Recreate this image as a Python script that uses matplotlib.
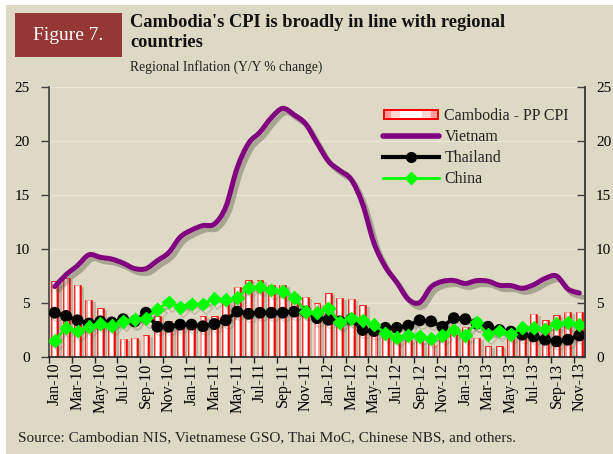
import numpy as np
import matplotlib
matplotlib.use('Agg')
import matplotlib.pyplot as plt
from matplotlib.path import Path
from matplotlib.patches import PathPatch, Rectangle
from matplotlib.lines import Line2D
from matplotlib.legend_handler import HandlerBase
import matplotlib.patheffects as pe

# ---------------- data ----------------
month_names = ['Jan', 'Feb', 'Mar', 'Apr', 'May', 'Jun', 'Jul', 'Aug', 'Sep', 'Oct', 'Nov', 'Dec']
years = ['10', '11', '12', '13']
categories = [f"{m}-{y}" for y in years for m in month_names][:47]   # Jan-10 .. Nov-13

cambodia = [7.0, 7.3, 6.7, 5.3, 4.5, 3.4, 1.7, 1.8, 2.0, 3.8, 3.3, 3.3,
            3.3, 3.8, 3.8, 5.1, 6.5, 7.1, 7.1, 6.7, 6.7, 5.8, 5.6, 5.0,
            5.9, 5.5, 5.4, 4.8, 3.0, 2.3, 1.8, 1.6, 1.5, 1.3, 1.9, 2.2,
            2.8, 1.8, 1.0, 1.0, 2.8, 2.9, 4.0, 3.4, 3.9, 4.2, 4.2]
vietnam = [6.52, 7.62, 8.46, 9.46, 9.23, 9.07, 8.69, 8.19, 8.18, 8.92, 9.66, 11.09,
           11.75, 12.17, 12.31, 13.89, 17.51, 19.78, 20.82, 22.16, 23.02, 22.42, 21.59, 19.83,
           18.13, 17.27, 16.44, 14.15, 10.54, 8.34, 6.9, 5.35, 5.04, 6.48, 7.0, 7.08,
           6.81, 7.07, 7.02, 6.64, 6.61, 6.36, 6.69, 7.27, 7.5, 6.3, 5.92]
thailand = [4.1, 3.8, 3.4, 3.1, 3.3, 3.2, 3.5, 3.3, 4.1, 2.8, 2.8, 3.0,
            3.0, 2.85, 3.05, 3.4, 4.2, 4.0, 4.1, 4.1, 4.1, 4.2, 4.2, 3.6,
            3.45, 3.3, 3.5, 2.5, 2.4, 2.7, 2.7, 2.9, 3.4, 3.3, 2.8, 3.6,
            3.5, 3.1, 2.8, 2.5, 2.35, 2.06, 1.9, 1.6, 1.45, 1.6, 2.0]
china = [1.5, 2.7, 2.4, 2.8, 3.1, 2.9, 3.3, 3.5, 3.6, 4.4, 5.1, 4.6,
         4.9, 4.9, 5.4, 5.3, 5.5, 6.4, 6.5, 6.2, 6.1, 5.5, 4.2, 4.1,
         4.5, 3.2, 3.6, 3.4, 3.0, 2.2, 1.8, 2.0, 1.9, 1.7, 2.0, 2.5,
         2.0, 3.2, 2.1, 2.4, 2.1, 2.7, 2.7, 2.6, 3.1, 3.2, 3.0]
y_ticks = [0, 5, 10, 15, 20, 25]

title = "Cambodia's CPI is broadly in line with regional\ncountries"
subtitle = "Regional Inflation (Y/Y % change)"
fig_label = "Figure 7."
source = "Source: Cambodian NIS, Vietnamese GSO, Thai MoC, Chinese NBS, and others."
labels = ['Cambodia - PP CPI', 'Vietnam', 'Thailand', 'China']

# ---------------- style ----------------
BG = '#DDD9C4'
GRID = '#E9E6D8'
RED = '#FF0000'
PINK = '#FF9C9C'
PURPLE = '#800080'
GREEN = '#00FF00'
SERIF = ['Liberation Serif', 'DejaVu Serif']
plt.rcParams['font.family'] = SERIF

W, H = 613, 454
fig = plt.figure(figsize=(W / 100, H / 100), dpi=100, facecolor='white')
fig.patches.append(Rectangle((6 / W, 0), 1 - 6 / W, 1 - 5 / H, transform=fig.transFigure,
                             facecolor=BG, edgecolor='none', zorder=-10))

L, R, T, B = 49, 585, 87, 357
ax = fig.add_axes([L / W, 1 - B / H, (R - L) / W, (B - T) / H])
ax.set_facecolor('none')
x = np.arange(len(categories))

# gridlines
for yv in y_ticks[1:]:
    ax.axhline(yv, color=GRID, lw=1.0, zorder=0)

shadow_bar = [pe.SimplePatchShadow(offset=(2.5, -1.5), shadow_rgbFace='#6E6A5A', alpha=0.3), pe.Normal()]
ax.bar(x, cambodia, width=0.60, color=RED, edgecolor=RED, lw=0.4, zorder=2, path_effects=shadow_bar)
ax.bar(x, [v - 0.06 for v in cambodia], width=0.44, color=PINK, edgecolor='none', zorder=2.1)
ax.bar(x, [v - 0.1 for v in cambodia], width=0.24, color='white', edgecolor='none', zorder=2.2)


# smooth Vietnam line (Catmull-Rom via Bezier segments through data points)
def smooth_path(xs, ys):
    pts = np.column_stack([xs, ys]).astype(float)
    verts = [pts[0]]
    codes = [Path.MOVETO]
    n = len(pts)
    for i in range(n - 1):
        p0 = pts[i - 1] if i > 0 else pts[i]
        p1 = pts[i]
        p2 = pts[i + 1]
        p3 = pts[i + 2] if i + 2 < n else pts[i + 1]
        c1 = p1 + (p2 - p0) / 6.0
        c2 = p2 - (p3 - p1) / 6.0
        verts += [c1, c2, p2]
        codes += [Path.CURVE4] * 3
    return Path(verts, codes)


vn_shadow = [pe.SimpleLineShadow(offset=(2.5, -3), shadow_color='#5A5648', alpha=0.4), pe.Normal()]
sm_shadow = [pe.SimpleLineShadow(offset=(2.0, -2.5), shadow_color='#5A5648', alpha=0.25), pe.Normal()]
vp = PathPatch(smooth_path(x, vietnam), fill=False, edgecolor=PURPLE, lw=3.6,
               capstyle='round', joinstyle='round', zorder=4, path_effects=vn_shadow)
ax.add_patch(vp)

ax.plot(x, thailand, color='black', lw=2.8, marker='o', ms=7.5, zorder=5, path_effects=sm_shadow)
ax.plot(x, china, color=GREEN, lw=2.0, marker='D', ms=6.5, zorder=6, path_effects=sm_shadow)

ax.set_xlim(-0.5, len(categories) - 0.5)
ax.set_ylim(0, 25)
ax.set_yticks(y_ticks)
ax.set_yticklabels([str(v) for v in y_ticks], fontsize=11)
ax.tick_params(axis='y', direction='out', length=6, width=1.0, color='#404040', pad=8)

ax.set_xticks(np.arange(-0.5, len(categories) - 1, 2))
ax.set_xticklabels([])
ax.set_xticks(x[::2], minor=True)
ax.set_xticklabels(categories[::2], minor=True, rotation=90, fontsize=11.5)
ax.tick_params(axis='x', which='major', direction='out', length=4, width=1.0, color='#202020')
ax.tick_params(axis='x', which='minor', length=0, pad=4)

ax.spines['top'].set_visible(False)
for s, c in [('left', '#404040'), ('right', '#404040'), ('bottom', '#202020')]:
    ax.spines[s].set_color(c)
    ax.spines[s].set_linewidth(1.2)

ax2 = ax.twinx()
ax2.set_ylim(0, 25)
ax2.set_yticks(y_ticks)
ax2.set_yticklabels([str(v) for v in y_ticks], fontsize=11)
ax2.tick_params(axis='y', direction='in', length=6, width=1.0, color='#404040', pad=8)
for s in ['top', 'left', 'bottom']:
    ax2.spines[s].set_visible(False)
ax2.spines['right'].set_color('#404040')
ax2.spines['right'].set_linewidth(1.2)


# legend
class GradHandler(HandlerBase):
    def create_artists(self, legend, orig_handle, xd, yd, width, height, fontsize, trans):
        h = height * 0.95
        y0 = yd + (height - h) / 2
        arts = []
        layers = [(1.0, 1.0, RED), (0.94, 0.72, PINK), (0.7, 0.72, '#FFD6D6'), (0.4, 0.72, 'white')]
        for fw, fh, col in layers:
            w = width * fw
            hh = h * fh
            arts.append(Rectangle((xd + (width - w) / 2, y0 + (h - hh) / 2), w, hh,
                                  facecolor=col, edgecolor='none', transform=trans))
        return arts


class Cam:
    pass


handles = [Cam(),
           Line2D([], [], color=PURPLE, lw=4, solid_capstyle='round'),
           Line2D([], [], color='black', lw=3, marker='o', ms=7),
           Line2D([], [], color=GREEN, lw=2, marker='D', ms=6)]
leg = ax2.legend(handles, labels, handler_map={Cam: GradHandler()},
                 loc='upper left', bbox_to_anchor=((383 - L) / (R - L), (B - 108) / (B - T)),
                 frameon=False, fontsize=11.5, handlelength=3.5, handletextpad=0.35,
                 labelspacing=0.32, borderpad=0, borderaxespad=0)
for t in leg.get_texts():
    t.set_color('#222222')

# header
fig.patches.append(Rectangle((15 / W, 1 - 57 / H), 107 / W, 44 / H, transform=fig.transFigure,
                             facecolor='#953735', edgecolor='none'))
fig.text(68.5 / W, 1 - 35.5 / H, fig_label, color='white', fontsize=14, ha='center', va='center')
fig.text(130 / W, 1 - 14 / H, title, fontsize=13.2, fontweight='bold', ha='left', va='top',
         color='#111111', linespacing=1.2)
fig.text(130 / W, 1 - 67 / H, subtitle, fontsize=9.8, ha='left', va='center', color='#222222')
fig.text(18 / W, 1 - 438 / H, source, fontsize=11, ha='left', va='center', color='#222222')

fig.savefig('out.png', dpi=100, facecolor=fig.get_facecolor())
